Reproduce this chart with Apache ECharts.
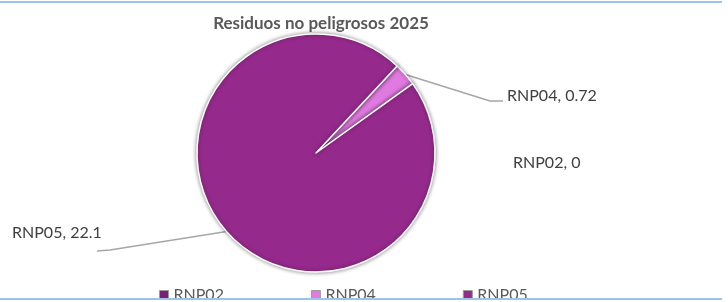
<!DOCTYPE html>
<html>
<head>
<meta charset="utf-8">
<script src="https://cdn.jsdelivr.net/npm/echarts@6/dist/echarts.min.js"></script>
<style>
  html, body { margin: 0; padding: 0; background: #fff; }
  #chart { width: 728px; height: 302px; position: relative; }
  .rule { position: absolute; left: 0; width: 722px; height: 2px; background: #9dc3e6; }
</style>
</head>
<body>
<div id="chart"></div>
<div class="rule" style="top:1px"></div>
<div class="rule" style="top:298px"></div>
<script>
const categories = ['RNP02', 'RNP04', 'RNP05'];
const values = [0, 0.72, 22.1];
const colors = ['#7a1f78', '#e07ae0', '#952a8c'];
const chartTitle = 'Residuos no peligrosos 2025';

// where each label sits (left x, middle y), and the elbow of its leader line
const labelSpots = [
  { x: 513, y: 163, line: null },
  { x: 507, y: 96, line: [[490, 101], [503, 101]] },
  { x: 12, y: 233, line: [[110, 250], [97, 251]] }
];

const chart = echarts.init(document.getElementById('chart'));

const option = {
  animation: false,
  textStyle: { fontFamily: 'Lato, "Open Sans", sans-serif' },
  title: {
    text: chartTitle,
    left: 316,
    textAlign: 'center',
    top: 10,
    textStyle: { fontSize: 17, fontWeight: 'bold', color: '#595959', fontFamily: 'Lato' }
  },
  legend: {
    data: categories,
    left: 154,
    top: 282,
    itemWidth: 9,
    itemHeight: 9,
    itemGap: 87,
    icon: 'rect',
    itemStyle: { borderColor: '#9a9a9a', borderWidth: 1 },
    textStyle: { fontSize: 16, color: '#595959', fontFamily: 'Lato' }
  },
  series: [{
    type: 'pie',
    center: [316, 153],
    radius: 119,
    startAngle: 47,
    clockwise: true,
    minAngle: 0,
    data: categories.map((name, i) => ({
      name: name,
      value: values[i],
      itemStyle: { color: colors[i] },
      labelLine: { show: labelSpots[i].line !== null }
    })),
    itemStyle: {
      borderColor: '#fff',
      borderWidth: 1.5,
      shadowBlur: 4,
      shadowColor: 'rgba(0,0,0,0.45)'
    },
    label: {
      show: true,
      formatter: p => p.name + ', ' + p.value,
      fontSize: 16,
      color: '#404040',
      fontFamily: 'Lato'
    },
    labelLine: {
      show: true,
      lineStyle: { color: '#a6a6a6', width: 1.5 }
    },
    labelLayout: function (params) {
      const spot = labelSpots[params.dataIndex];
      const out = { x: spot.x, y: spot.y, align: 'left', verticalAlign: 'middle' };
      if (spot.line && params.labelLinePoints) {
        out.labelLinePoints = [params.labelLinePoints[0], spot.line[0], spot.line[1]];
      }
      return out;
    }
  }]
};

chart.setOption(option);
</script>
</body>
</html>
